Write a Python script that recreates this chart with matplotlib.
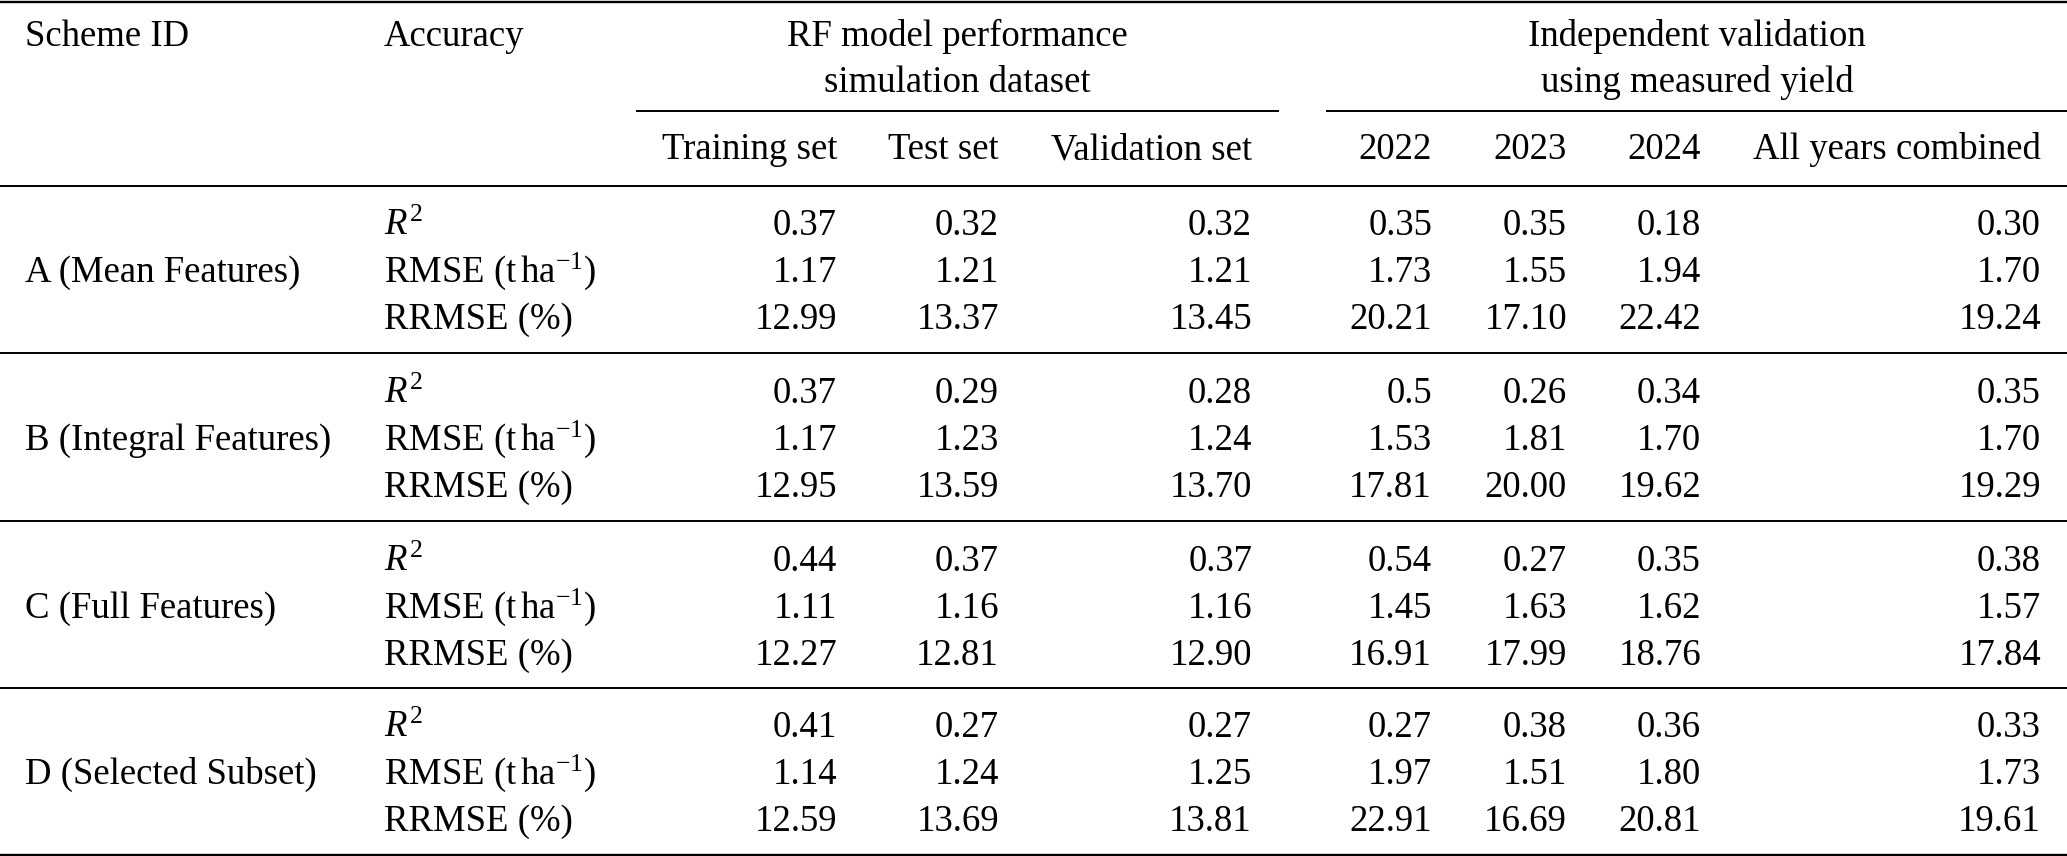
import matplotlib
matplotlib.use("Agg")
import matplotlib.pyplot as plt

plt.rcParams['font.family'] = ['Liberation Serif', 'DejaVu Serif']
plt.rcParams['mathtext.fontset'] = 'custom'
plt.rcParams['mathtext.rm'] = 'Liberation Serif'
plt.rcParams['mathtext.it'] = 'Liberation Serif:italic'

schemes = ["A (Mean Features)", "B (Integral Features)", "C (Full Features)", "D (Selected Subset)"]
metrics = [r"$R^2$", r"RMSE (t$\,$ha$^{-1}$)", "RRMSE (%)"]
columns = ["Training set", "Test set", "Validation set", "2022", "2023", "2024", "All years combined"]

scheme_a = [["0.37", "0.32", "0.32", "0.35", "0.35", "0.18", "0.30"],
            ["1.17", "1.21", "1.21", "1.73", "1.55", "1.94", "1.70"],
            ["12.99", "13.37", "13.45", "20.21", "17.10", "22.42", "19.24"]]
scheme_b = [["0.37", "0.29", "0.28", "0.5", "0.26", "0.34", "0.35"],
            ["1.17", "1.23", "1.24", "1.53", "1.81", "1.70", "1.70"],
            ["12.95", "13.59", "13.70", "17.81", "20.00", "19.62", "19.29"]]
scheme_c = [["0.44", "0.37", "0.37", "0.54", "0.27", "0.35", "0.38"],
            ["1.11", "1.16", "1.16", "1.45", "1.63", "1.62", "1.57"],
            ["12.27", "12.81", "12.90", "16.91", "17.99", "18.76", "17.84"]]
scheme_d = [["0.41", "0.27", "0.27", "0.27", "0.38", "0.36", "0.33"],
            ["1.14", "1.24", "1.25", "1.97", "1.51", "1.80", "1.73"],
            ["12.59", "13.69", "13.81", "22.91", "16.69", "20.81", "19.61"]]
values = [scheme_a, scheme_b, scheme_c, scheme_d]

W, H = 2067, 856
fig = plt.figure(figsize=(W / 100, H / 100), dpi=100)
ax = fig.add_axes([0, 0, 1, 1])
ax.set_xlim(0, W)
ax.set_ylim(H, 0)
ax.axis("off")

fs = 26.5
col_right = [837, 999, 1252, 1432, 1567, 1701, 2041]
x_scheme, x_acc = 25, 384

# rules (positions in pixels from the top)
ax.axhline(1.5, color="black", lw=1.7)
ax.axhline(854.5, color="black", lw=1.7)
for y in [186, 353, 521, 688]:
    ax.axhline(y, color="black", lw=1.4)
ax.plot([637, 1278], [111, 111], color="black", lw=1.4)
ax.plot([1327, W], [111, 111], color="black", lw=1.4)

# header
kw = dict(fontsize=fs, va="baseline")
ax.text(x_scheme, 46, "Scheme ID", ha="left", **kw)
ax.text(x_acc, 46, "Accuracy", ha="left", **kw)
ax.text(957, 46, "RF model performance", ha="center", **kw)
ax.text(957, 92, "simulation dataset", ha="center", **kw)
ax.text(1697, 46, "Independent validation", ha="center", **kw)
ax.text(1697, 92, "using measured yield", ha="center", **kw)
for x, c in zip(col_right, columns):
    ax.text(x, 159, c, ha="right", **kw)

# body
group_base = [235, 403, 571, 737]
row_gap = 46.8
for g, (name, block) in enumerate(zip(schemes, values)):
    y0 = group_base[g]
    ax.text(x_scheme, y0 + row_gap, name, ha="left", **kw)
    for r, (m, row) in enumerate(zip(metrics, block)):
        y = y0 + r * row_gap
        ax.text(x_acc, y, m, ha="left", **kw)
        for x, v in zip(col_right, row):
            ax.text(x, y, v, ha="right", **kw)

fig.savefig("out.png", dpi=100)
